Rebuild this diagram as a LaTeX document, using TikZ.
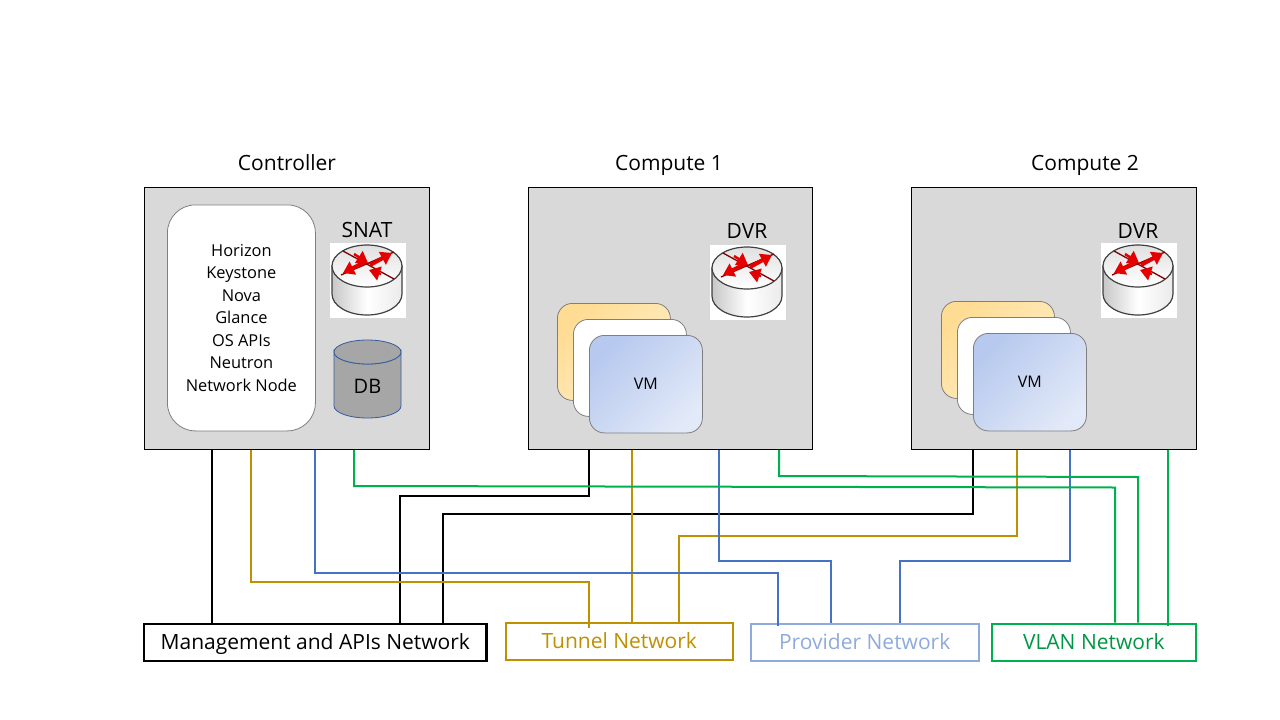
\documentclass[tikz,border=0pt]{standalone}
\usepackage{fontspec}
\setmainfont{Open Sans}
\usetikzlibrary{arrows.meta}
\definecolor{boxgray}{HTML}{D9D9D9}
\definecolor{tanline}{HTML}{BF9000}
\definecolor{blueline}{HTML}{4472C4}
\definecolor{paleblue}{HTML}{8FAADC}
\definecolor{greenline}{HTML}{00B050}
\definecolor{edgegray}{HTML}{7F7F7F}
\definecolor{yellowa}{HTML}{FFDC94}
\definecolor{yellowb}{HTML}{FFEFC8}
\definecolor{bluea}{HTML}{B7C9EE}
\definecolor{blueb}{HTML}{E2E9F8}
\tikzset{
  host/.style={draw=black,line width=1pt,fill=boxgray,anchor=north west,inner sep=0pt},
  title/.style={font=\fontsize{21}{25}\selectfont,text=black,inner sep=0pt,text height=16pt,text depth=0pt},
  rtlabel/.style={font=\fontsize{21}{25}\selectfont,text=black,inner sep=0pt,text height=16pt,text depth=0pt},
  net/.style={anchor=north west,inner sep=0pt,fill=white,line width=2.2pt,font=\fontsize{21}{25}\selectfont,text height=16pt,text depth=1.5pt},
  card/.style={draw=edgegray,line width=.8pt,rounded corners=15pt,anchor=north west,inner sep=0pt,minimum width=113pt,minimum height=97pt},
  yellowcard/.style={card,shading=axis,top color=yellowa,bottom color=yellowb,shading angle=45},
  whitecard/.style={card,fill=white},
  bluecard/.style={card,shading=axis,top color=bluea,bottom color=blueb,shading angle=45,font=\fontsize{16}{20}\selectfont},
  wire/.style={line width=2pt,line join=miter},
  blackwire/.style={wire,draw=black},
  tanwire/.style={wire,draw=tanline},
  bluewire/.style={wire,draw=blueline},
  greenwire/.style={wire,draw=greenline},
  redout/.style={draw=red!90!black,line width=4pt,-{Triangle[length=11pt,width=14pt]}},
  redin/.style={draw=red!90!black,line width=2.5pt,-{Triangle[length=11pt,width=14pt]}},
  redtail/.style={draw=red!50!black,line width=1.3pt},
  router/.pic={
    \fill[white] (-37,-23) rectangle (39,52);
    \path[draw=black!75,line width=1.2pt,left color=black!22,right color=black!8,middle color=white]
      (-35,0) -- (-35,28) arc[start angle=180,end angle=360,x radius=35,y radius=-21] -- (35,0) -- cycle;
    \path[draw=black!75,line width=1.2pt,top color=black!12,bottom color=white]
      (0,0) ellipse[x radius=35,y radius=21];
    \draw[redtail] (-24,-15) -- (27,13);
    \draw[redtail] (27,-14) -- (-26,9);
    \draw[redin] (-13,-12) -- (1,-3);
    \draw[redin] (14,8) -- (2,4);
    \draw[redout] (3,-1) -- (25,-13);
    \draw[redout] (-2,-4) -- (-24,7);
  }
}
\newcommand{\vmstack}[3]{%
  \node[yellowcard] (#3y) at (#1,#2) {};
  \node[whitecard] (#3w) at (#1+16,#2+16) {};
  \node[bluecard,minimum height=97.5pt] (#3b) at (#1+32,#2+32) {VM};
}
\begin{document}
\begin{tikzpicture}[x=1pt,y=-1pt]
\useasboundingbox[fill=white] (0,0) rectangle (1280,720);

\node[host,minimum width=285pt,minimum height=262pt] (ctrl) at (144,187) {};
\node[host,minimum width=284pt,minimum height=262pt] (cmpa) at (528,187) {};
\node[host,minimum width=285pt,minimum height=262pt] (cmpb) at (911,187) {};

\node[title] (tctrl) at (287,162) {Controller};
\node[title] (tcmpa) at (669,162) {Compute 1};
\node[title] (tcmpb) at (1085,162) {Compute 2};

\node[draw=edgegray,line width=.8pt,fill=white,rounded corners=28pt,anchor=north west,inner sep=0pt,
  minimum width=148pt,minimum height=226pt,align=center,font=\fontsize{16.4}{22.5}\selectfont] (svc) at (167,204.5)
  {Horizon\\Keystone\\Nova\\Glance\\OS APIs\\Neutron\\Network Node};

\path pic at (367,266) {router};
\path pic at (747,268) {router};
\path pic at (1138,266) {router};
\node[rtlabel] (snat) at (367,229) {SNAT};
\node[rtlabel] (dvra) at (747,230) {DVR};
\node[rtlabel] (dvrb) at (1138,230) {DVR};

\draw[draw=blueline!80!black,line width=.8pt,fill=black!35]
  (334,352) -- (334,406) arc[start angle=180,end angle=360,x radius=33.5,y radius=-12]
  -- (401,352) arc[start angle=0,end angle=-180,x radius=33.5,y radius=-12] -- cycle;
\draw[draw=blueline!80!black,line width=.8pt,fill=black!35]
  (367.5,352) ellipse[x radius=33.5,y radius=12];
\node[font=\fontsize{20}{24}\selectfont,inner sep=0pt] (db) at (367.5,386) {DB};

\vmstack{557}{303}{a}
\vmstack{941}{301}{b}

\node[net,draw=black,text=black,minimum width=342.4pt,minimum height=37pt] (mgmt) at (143,622.7) {Management and APIs Network};
\node[net,draw=tanline,text=tanline,minimum width=226.8pt,minimum height=37pt] (tun) at (504.8,621.7) {Tunnel Network};
\node[net,draw=paleblue,text=paleblue,minimum width=227.8pt,minimum height=37pt] (prov) at (749.7,622.7) {Provider Network};
\node[net,draw=greenline,text=greenline!85!black,minimum width=204.1pt,minimum height=37pt] (vlan) at (990.7,622.7) {VLAN Network};

\draw[blackwire] (212,0 |- ctrl.south) -- (212,0 |- mgmt.north);
\draw[blackwire] (589,0 |- cmpa.south) -- (589,496) -- (400,496) -- (400,0 |- mgmt.north);
\draw[blackwire] (973,0 |- cmpb.south) -- (973,514) -- (443,514) -- (443,0 |- mgmt.north);

\draw[tanwire] (251,0 |- ctrl.south) -- (251,582) -- (589,582) -- (589,628);
\draw[tanwire] (632,0 |- cmpa.south) -- (632,0 |- tun.north);
\draw[tanwire] (1017,0 |- cmpb.south) -- (1017,536) -- (679,536) -- (679,0 |- tun.north);

\draw[bluewire] (315,0 |- ctrl.south) -- (315,573) -- (778,573) -- (778,626);
\draw[bluewire] (719,0 |- cmpa.south) -- (719,561) -- (831,561) -- (831,0 |- prov.north);
\draw[bluewire] (1070,0 |- cmpb.south) -- (1070,561) -- (900,561) -- (900,0 |- prov.north);

\draw[greenwire] (354,0 |- ctrl.south) -- (354,486) -- (1115,487.5) -- (1115,0 |- vlan.north);
\draw[greenwire] (779,0 |- cmpa.south) -- (779,476) -- (1138,477) -- (1138,0 |- vlan.north);
\draw[greenwire] (1168,0 |- cmpb.south) -- (1168,626);
\end{tikzpicture}
\end{document}
